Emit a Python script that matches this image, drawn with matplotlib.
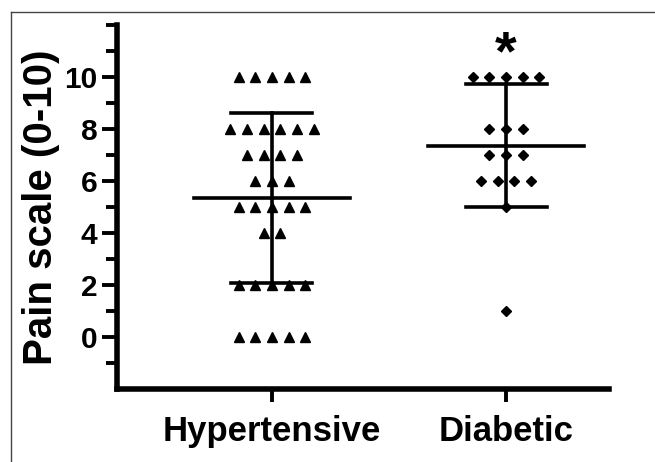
import numpy as np
import matplotlib
matplotlib.use('Agg')
import matplotlib.pyplot as plt
from matplotlib.lines import Line2D

plt.rcParams['font.family'] = ['Liberation Sans', 'DejaVu Sans']
plt.rcParams['font.weight'] = 'bold'

# pain scores, one entry per patient
groups = ['Hypertensive', 'Diabetic']
hypertensive = [10]*5 + [8]*6 + [7]*4 + [6]*3 + [5]*5 + [4]*2 + [2]*5 + [0]*5
diabetic = [10]*5 + [8]*3 + [7]*3 + [6]*4 + [5] + [1]
markers = ['^', 'D']
marker_sizes = [7.8, 5.4]
y_major = [0, 2, 4, 6, 8, 10]
y_minor = [-1, 1, 3, 5, 7, 9, 11, 12]

fig = plt.figure(figsize=(6.55, 4.62), dpi=100)
ax = fig.add_axes([117/655, 1 - 389/462, (609 - 117)/655, (389 - 25)/462])

spacing = 0.0712  # horizontal gap between points in a row

for i, vals in enumerate([hypertensive, diabetic]):
    vals = np.array(vals)
    # spread equal values side by side like a column scatter
    for v in np.unique(vals):
        n = np.sum(vals == v)
        xs = i + (np.arange(n) - (n - 1) / 2) * spacing
        ax.plot(xs, [v]*n, linestyle='none', marker=markers[i],
                markersize=marker_sizes[i], color='black', zorder=3)
    m = vals.mean()
    sd = vals.std(ddof=1)
    ax.plot([i - 0.335, i + 0.335], [m, m], color='black', lw=2.6, zorder=4)
    ax.plot([i, i], [m - sd, m + sd], color='black', lw=2.6, zorder=4)
    ax.plot([i - 0.173, i + 0.173], [m + sd, m + sd], color='black', lw=2.6, zorder=4)
    ax.plot([i - 0.173, i + 0.173], [m - sd, m - sd], color='black', lw=2.6, zorder=4)

# significance mark over the diabetic group
ax.text(1, 10.85, '*', ha='center', va='center', fontsize=40, fontweight='bold')

ax.set_xlim(-0.662, 1.44)
ax.set_ylim(-2, 12)
ax.set_xticks([0, 1])
ax.set_xticklabels(groups, fontsize=25, fontweight='bold')
ax.set_yticks(y_major)
ax.set_yticklabels([str(t) for t in y_major], fontsize=21.5, fontweight='bold')
ax.set_yticks(y_minor, minor=True)
ax.set_ylabel('Pain scale (0-10)', fontsize=29, fontweight='bold', labelpad=3)

for s in ['top', 'right']:
    ax.spines[s].set_visible(False)
for s in ['left', 'bottom']:
    ax.spines[s].set_linewidth(4)
    ax.spines[s].set_capstyle('projecting')

ax.tick_params(axis='y', which='major', length=11, width=2.8, pad=3)
ax.tick_params(axis='y', which='minor', length=8, width=2.8)
ax.tick_params(axis='x', which='major', length=9, width=2.8, pad=10)

# thin frame around the panel (top and left edges only)
fig.add_artist(Line2D([11/655, 1], [1 - 12/462, 1 - 12/462], color='#444444', lw=1))
fig.add_artist(Line2D([11/655, 11/655], [0, 1 - 12/462], color='#444444', lw=1))

fig.savefig('out.png', dpi=100)
